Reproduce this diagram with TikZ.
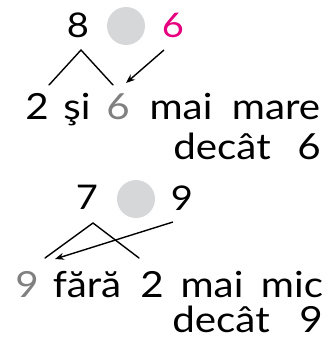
\documentclass[tikz,border=0pt]{standalone}
\usepackage{fontspec}
\setmainfont{Lato}[FakeStretch=1.12]
\usetikzlibrary{arrows.meta,positioning}
\definecolor{hotpink}{HTML}{E6007E}
\definecolor{midgrey}{HTML}{808080}
\definecolor{dotgrey}{HTML}{D6D7D9}
\tikzset{
  num/.style={font=\fontsize{34}{40}\selectfont,inner sep=0pt},
  wd/.style={font=\fontsize{36}{40}\selectfont,inner sep=0pt,anchor=base},
  dot/.style={circle,fill=dotgrey,minimum size=38pt,inner sep=0pt},
  ln/.style={line width=1.4pt,line cap=round},
  arr/.style={-{Stealth[length=9pt,width=7pt]},line width=1.4pt},
}
\begin{document}
\begin{tikzpicture}[x=1pt,y=-1pt]
  \useasboundingbox (0,0) rectangle (332,345);
  % top comparison
  \node[num] (a1) at (78,25) {8};
  \node[dot] (c1) at (126,26) {};
  \node[num,text=hotpink] (b1) at (173,25) {6};
  \node[wd] (w11) at (37,119) {2};
  \node[wd] (w12) at (77,119) {şi};
  \node[wd,text=midgrey] (w13) at (118,119) {6};
  \node[wd] (w14) at (181,119) {mai};
  \node[wd] (w15) at (276,119) {mare};
  \node[wd] (w16) at (222,159) {decât};
  \node[wd] (w17) at (309,159) {6};
  \coordinate (p1) at (81,50);
  \coordinate (l1) at (49,85);
  \coordinate (r1) at (113,85);
  \coordinate (s1) at (164,50);
  \coordinate (e1) at (126,83);
  \draw[ln] (l1) -- (p1) -- (r1);
  \draw[arr] (s1) -- (e1);
  % bottom comparison
  \node[num] (a2) at (87,197) {7};
  \node[dot] (c2) at (136,199) {};
  \node[num] (b2) at (182,198) {9};
  \node[wd,text=midgrey] (w21) at (27,297) {9};
  \node[wd] (w22) at (87,297) {fără};
  \node[wd] (w23) at (152,297) {2};
  \node[wd] (w24) at (212,297) {mai};
  \node[wd] (w25) at (292,297) {mic};
  \node[wd] (w26) at (221,332) {decât};
  \node[wd] (w27) at (311,332) {9};
  \coordinate (p2) at (93,223);
  \coordinate (l2) at (45,258);
  \coordinate (r2) at (139,258);
  \coordinate (s2) at (173,222);
  \coordinate (e2) at (55,259);
  \draw[ln] (l2) -- (p2) -- (r2);
  \draw[arr] (s2) -- (e2);
\end{tikzpicture}
\end{document}
